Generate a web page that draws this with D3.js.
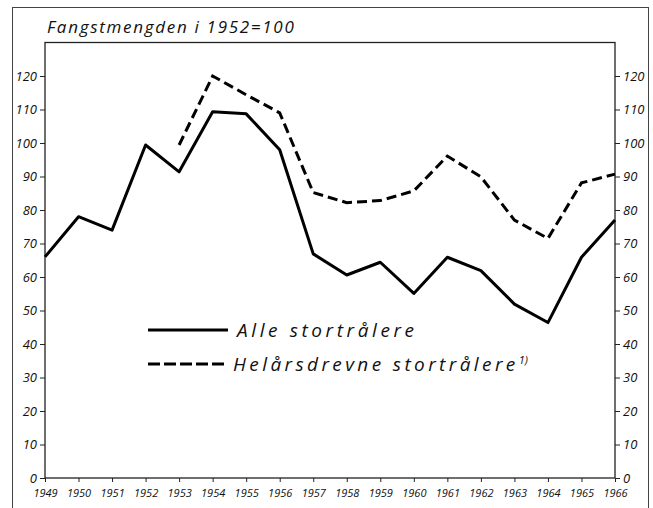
<!DOCTYPE html>
<html lang="no">
<head>
<meta charset="UTF-8">
<title>Fangstmengden</title>
<script src="https://d3js.org/d3.v7.min.js"></script>
<style>
  body { margin: 0; background: #fff; }
  svg text { font-family: "Open Sans", "DejaVu Sans", sans-serif; font-style: italic; fill: #111; }
  .tick text { font-size: 13px; }
  .xaxis .tick text { font-size: 11px; }
</style>
</head>
<body>
<div id="chart"></div>
<script>
// years on the x axis
const years = d3.range(1949, 1967);
// Alle stortrålere, index 1952 = 100
const alle = [66, 78, 74, 99.4, 91.4, 109.3, 108.7, 98, 66.9, 60.6, 64.4, 55.1, 65.9, 61.9, 51.9, 46.4, 65.9, 77];
// Helårsdrevne stortrålere, starts 1953
const helYears = d3.range(1953, 1967);
const helaar = [99.4, 120, 114.4, 109, 85.2, 82.2, 82.8, 85.7, 96.1, 89.9, 77, 71.5, 88.1, 90.7];
const yTicks = d3.range(0, 121, 10);

const W = 653, H = 508;
const svg = d3.select("#chart").append("svg")
  .attr("width", W).attr("height", H);

const x = d3.scaleLinear().domain([1949, 1966]).range([45, 615]);
const y = d3.scaleLinear().domain([0, 130]).range([478, 42.5]);

// outer frame
svg.append("rect")
  .attr("x", 12.5).attr("y", 7.5).attr("width", 636).attr("height", 520)
  .attr("fill", "none").attr("stroke", "#444").attr("stroke-width", 1);

// inner box
svg.append("rect")
  .attr("x", x(1949)).attr("y", y(130)).attr("width", x(1966) - x(1949)).attr("height", y(0) - y(130))
  .attr("fill", "none").attr("stroke", "#222").attr("stroke-width", 1.3);

// title
svg.append("text")
  .attr("x", 47).attr("y", 33)
  .style("font-size", "17px")
  .style("letter-spacing", "1.7px")
  .text("Fangstmengden i 1952=100");

// axes
svg.append("g")
  .attr("transform", `translate(${x(1949)},0)`)
  .call(d3.axisLeft(y).tickValues(yTicks).tickSize(5).tickPadding(3).tickFormat(d => d))
  .call(g => g.select(".domain").remove())
  .call(g => g.selectAll(".tick line").attr("stroke", "#222"));

svg.append("g")
  .attr("transform", `translate(${x(1966)},0)`)
  .call(d3.axisRight(y).tickValues(yTicks).tickSize(5).tickPadding(3).tickFormat(d => d))
  .call(g => g.select(".domain").remove())
  .call(g => g.selectAll(".tick line").attr("stroke", "#222"))
  .call(g => g.selectAll(".tick text").attr("text-anchor", "start"));

svg.append("g")
  .attr("class", "xaxis")
  .attr("transform", `translate(0,${y(0)})`)
  .call(d3.axisBottom(x).tickValues(years).tickSize(4).tickPadding(7).tickFormat(d => d))
  .call(g => g.select(".domain").remove())
  .call(g => g.selectAll(".tick line").attr("stroke", "#222"));

// lines
const line = d3.line().x(d => x(d[0])).y(d => y(d[1]));

svg.append("path")
  .datum(years.map((yr, i) => [yr, alle[i]]))
  .attr("d", line)
  .attr("fill", "none").attr("stroke", "#000").attr("stroke-width", 3)
  .attr("stroke-linejoin", "round");

svg.append("path")
  .datum(helYears.map((yr, i) => [yr, helaar[i]]))
  .attr("d", line)
  .attr("fill", "none").attr("stroke", "#000").attr("stroke-width", 3)
  .attr("stroke-dasharray", "10,5");

// legend
const legend = svg.append("g");
legend.append("line")
  .attr("x1", 148).attr("x2", 228).attr("y1", 330).attr("y2", 330)
  .attr("stroke", "#000").attr("stroke-width", 3);
legend.append("text")
  .attr("x", 237).attr("y", 337)
  .style("font-size", "19px")
  .style("letter-spacing", "3.6px")
  .text("Alle stortrålere");
legend.append("line")
  .attr("x1", 148).attr("x2", 228).attr("y1", 364).attr("y2", 364)
  .attr("stroke", "#000").attr("stroke-width", 3)
  .attr("stroke-dasharray", "12,4");
const t2 = legend.append("text")
  .attr("x", 233).attr("y", 371)
  .style("font-size", "19px")
  .style("letter-spacing", "3.4px")
  .text("Helårsdrevne stortrålere");
t2.append("tspan")
  .attr("dy", -7).style("font-size", "11px")
  .style("letter-spacing", "0px")
  .text("1)");
</script>
</body>
</html>
